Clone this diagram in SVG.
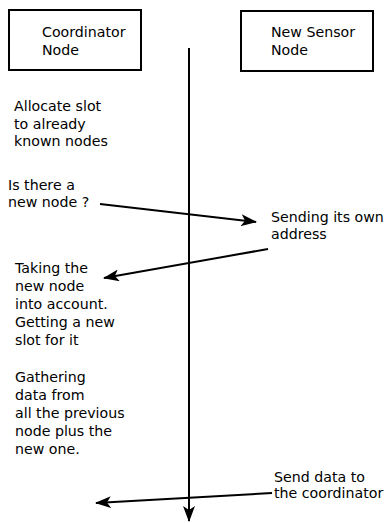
<svg xmlns="http://www.w3.org/2000/svg" width="390" height="523" viewBox="0 0 390 523">
  <style>
    text { font-family: "DejaVu Sans", "Liberation Sans", sans-serif; font-size: 14.2px; fill: #000; }
    .box { fill: #fff; stroke: #000; stroke-width: 2; }
    .wire { stroke: #000; stroke-width: 2; fill: none; }
  </style>
  <defs>
    <marker id="head" viewBox="0 0 16 12" refX="15" refY="6" markerWidth="16" markerHeight="12" markerUnits="userSpaceOnUse" orient="auto">
      <path d="M0,0 L16,6 L0,12 L4,6 Z" fill="#000"/>
    </marker>
  </defs>

  <rect width="390" height="523" fill="#fff"/>

  <g id="coordinator">
    <rect class="box" x="9" y="10" width="132" height="60"/>
    <text x="42" y="37">Coordinator</text>
    <text x="42" y="55">Node</text>
  </g>

  <g id="sensor">
    <rect class="box" x="241" y="11" width="132" height="60"/>
    <text x="271" y="37">New Sensor</text>
    <text x="271" y="55">Node</text>
  </g>

  <g id="notes">
    <text x="14" y="111">Allocate slot</text>
    <text x="14" y="129">to already</text>
    <text x="14" y="146">known nodes</text>

    <text x="8" y="190">Is there a</text>
    <text x="8" y="207">new node ?</text>

    <text x="271" y="222">Sending its own</text>
    <text x="271" y="239">address</text>

    <text x="15" y="273">Taking the</text>
    <text x="15" y="291">new node</text>
    <text x="15" y="309">into account.</text>
    <text x="15" y="327">Getting a new</text>
    <text x="15" y="345">slot for it</text>

    <text x="15" y="382">Gathering</text>
    <text x="15" y="400">data from</text>
    <text x="15" y="418">all the previous</text>
    <text x="15" y="436">node plus the</text>
    <text x="15" y="454">new one.</text>

    <text x="274" y="482">Send data to</text>
    <text x="274" y="498">the coordinator</text>
  </g>

  <g id="connectors">
    <line class="wire" x1="189" y1="48" x2="189" y2="521" marker-end="url(#head)"/>
    <line class="wire" x1="100" y1="204" x2="256" y2="222" marker-end="url(#head)"/>
    <line class="wire" x1="268" y1="249" x2="104" y2="278" marker-end="url(#head)"/>
    <line class="wire" x1="272" y1="493" x2="96" y2="503" marker-end="url(#head)"/>
  </g>
</svg>
